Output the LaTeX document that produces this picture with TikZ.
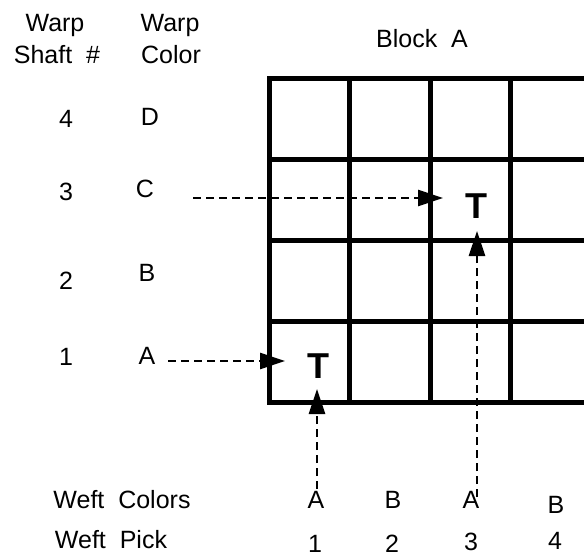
\documentclass[tikz,border=0pt]{standalone}
\usepackage{fontspec}
\setmainfont{Liberation Sans}
\usetikzlibrary{arrows.meta}
\begin{document}
\begin{tikzpicture}[x=1pt,y=-1pt,
  lbl/.style={anchor=base,inner sep=0pt,font=\fontsize{25}{29}\selectfont},
  tmark/.style={anchor=base,inner sep=0pt,font=\fontsize{36}{40}\selectfont\bfseries},
  gridline/.style={line width=5pt},
  arr/.style={line width=2.8pt,dash pattern=on 8pt off 5pt,-{Triangle[length=25pt,width=16pt]}}]
\useasboundingbox (0,0) rectangle (584,557);
\clip (0,0) rectangle (584,557);
% headers
\node[lbl] (h1) at (55,31) {Warp};
\node[lbl] (h2) at (57,63) {Shaft\ \ \#};
\node[lbl] (h3) at (170,31) {Warp};
\node[lbl] (h4) at (171,63) {Color};
\node[lbl] (blk) at (422,47) {Block\ \ A};
% shaft numbers and warp colors
\node[lbl] (s4) at (66,127) {4};
\node[lbl] (s3) at (66,200) {3};
\node[lbl] (s2) at (66,289) {2};
\node[lbl] (s1) at (66,365) {1};
\node[lbl] (cD) at (150,125) {D};
\node[lbl] (cC) at (145,197) {C};
\node[lbl] (cB) at (147,281) {B};
\node[lbl] (cA) at (147,364) {A};
% grid
\draw[gridline] (269,78) rectangle (591,402);
\foreach \x in {349.5,430,510.5} \draw[gridline] (\x,78) -- (\x,402);
\foreach \y in {159,240,321} \draw[gridline] (269,\y) -- (591,\y);
% T marks
\node[tmark] (t1) at (318,378) {T};
\node[tmark] (t2) at (476,218) {T};
% bottom labels
\node[lbl] (wc) at (122,508) {Weft\ \ Colors};
\node[lbl] (wp) at (111,548) {Weft\ \ Pick};
\node[lbl] (b1) at (316,508) {A};
\node[lbl] (b2) at (393,508) {B};
\node[lbl] (b3) at (471,508) {A};
\node[lbl] (b4) at (556,513) {B};
\node[lbl] (n1) at (315,552) {1};
\node[lbl] (n2) at (392,552) {2};
\node[lbl] (n3) at (471,550) {3};
\node[lbl] (n4) at (555,549) {4};
% arrow end points
\coordinate (a1s) at (168,361);
\coordinate (a1e) at (285,361);
\coordinate (a3s) at (193,198);
\coordinate (a3e) at (443,198);
\coordinate (v1s) at (317,489);
\coordinate (v1e) at (317,389);
\coordinate (v3s) at (477,497);
\coordinate (v3e) at (477,231);
\draw[arr] (a1s) -- (a1e);
\draw[arr] (a3s) -- (a3e);
\draw[arr] (v1s) -- (v1e);
\draw[arr] (v3s) -- (v3e);
\end{tikzpicture}
\end{document}
